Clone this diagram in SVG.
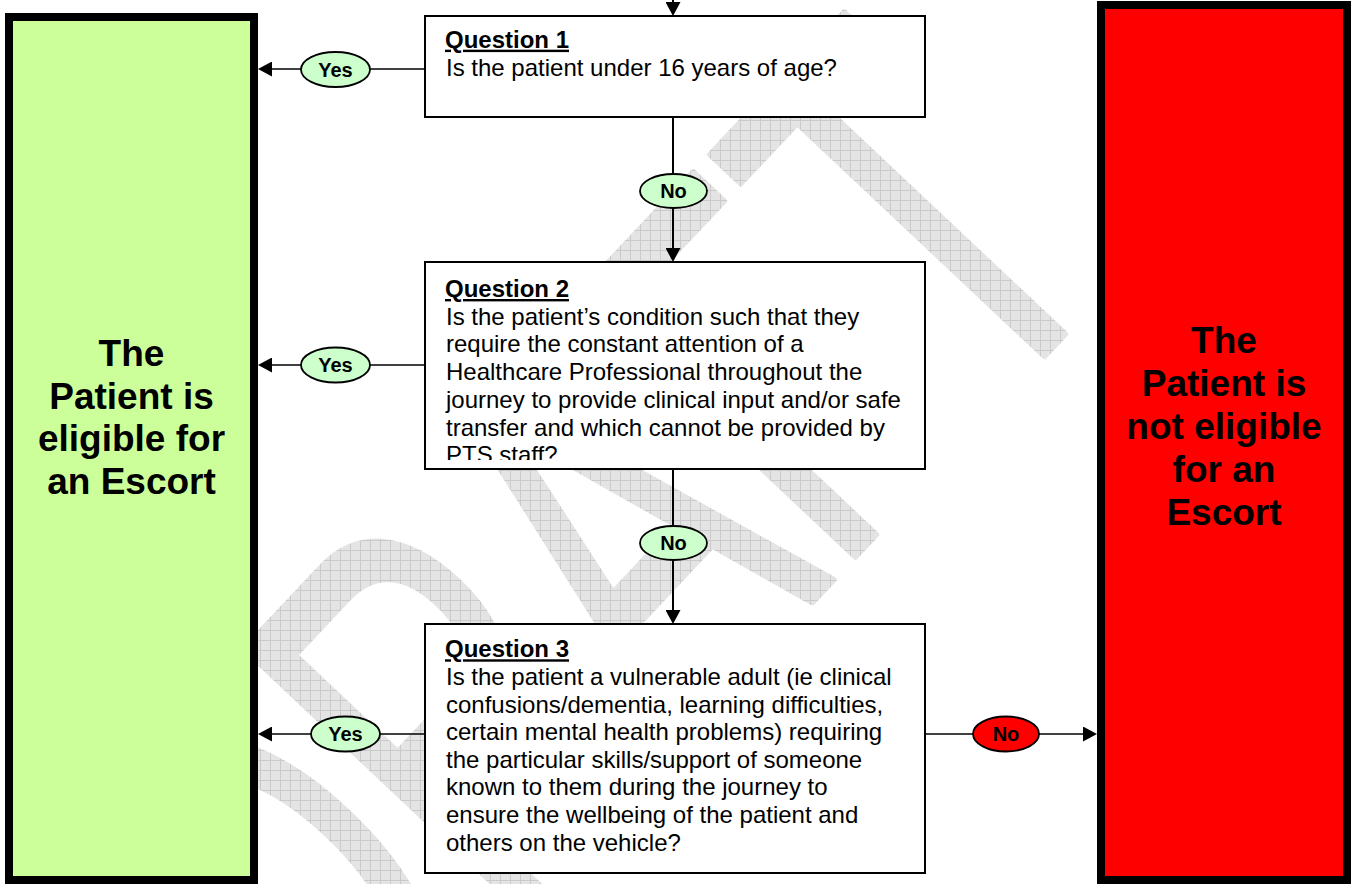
<svg xmlns="http://www.w3.org/2000/svg" width="1356" height="884" viewBox="0 0 1356 884">
  <style>
    .qbox { fill: #ffffff; stroke: #000000; stroke-width: 2; }
    .qtitle { font-family: "Liberation Sans", Arial, sans-serif; font-size: 24px; font-weight: bold; text-decoration: underline; fill: #000; }
    .qtext { font-family: "Liberation Sans", Arial, sans-serif; font-size: 24px; fill: #000; }
    .outcome { font-family: "Liberation Sans", Arial, sans-serif; font-size: 37px; font-weight: bold; text-anchor: middle; fill: #000; }
    .flow { stroke: #000; fill: none; }
    .tag { stroke: #000; stroke-width: 1.8; }
    .tag-yes { fill: #ccffcc; }
    .tag-no { fill: #ccffcc; }
    .tag-stop { fill: #ff0000; }
    .tagtext { font-family: "Liberation Sans", Arial, sans-serif; font-size: 20px; font-weight: bold; text-anchor: middle; fill: #000; }
  </style>
  <defs>
    <marker id="arrow" viewBox="0 0 14 15" refX="9" refY="7.5" markerWidth="14" markerHeight="15" markerUnits="userSpaceOnUse" orient="auto">
      <path d="M0,0 L14,7.5 L0,15 Z" fill="#000"/>
    </marker>
    <pattern id="hatch" width="10" height="10" patternUnits="userSpaceOnUse">
      <rect width="10" height="10" fill="#e4e4e4"/>
      <path d="M0 0.5H10M0.5 0V10" stroke="#cacaca" stroke-width="1"/>
    </pattern>
    <mask id="wmMask" maskUnits="userSpaceOnUse" x="0" y="0" width="1356" height="884">
      <text x="0" y="0" transform="translate(328.2,1116.3) rotate(-46.7) scale(3.5,5.55)" font-family="Liberation Sans, Arial, sans-serif" font-size="100" fill="#fff" stroke="#fff" stroke-width="1" stroke-linejoin="round">DRAFT</text>
    </mask>
    <clipPath id="q2clip">
      <rect x="426" y="263" width="498" height="197"/>
    </clipPath>
  </defs>

  <rect width="1356" height="884" fill="#ffffff"/>

  <!-- watermark -->
  <g id="watermark">
    <rect width="1356" height="884" fill="url(#hatch)" mask="url(#wmMask)"/>
  </g>

  <!-- connectors with their Yes/No tags -->
  <g id="connectors">
    <line class="flow" stroke-width="2" x1="673" y1="-10" x2="673" y2="11" marker-end="url(#arrow)"/>
    <line class="flow" stroke-width="2" x1="673" y1="117" x2="673" y2="257" marker-end="url(#arrow)"/>
    <line class="flow" stroke-width="2" x1="673" y1="469" x2="673" y2="619" marker-end="url(#arrow)"/>
    <line class="flow" stroke-width="1.6" x1="425" y1="69" x2="263" y2="69" marker-end="url(#arrow)"/>
    <line class="flow" stroke-width="1.6" x1="425" y1="365" x2="263" y2="365" marker-end="url(#arrow)"/>
    <line class="flow" stroke-width="1.6" x1="425" y1="734" x2="263" y2="734" marker-end="url(#arrow)"/>
    <line class="flow" stroke-width="1.6" x1="925" y1="734" x2="1092" y2="734" marker-end="url(#arrow)"/>

    <g id="tag-q1-no">
      <ellipse class="tag tag-no" cx="673.5" cy="191" rx="33.5" ry="17"/>
      <text class="tagtext" x="673.5" y="198">No</text>
    </g>
    <g id="tag-q2-no">
      <ellipse class="tag tag-no" cx="673.5" cy="543" rx="33.5" ry="17"/>
      <text class="tagtext" x="673.5" y="550">No</text>
    </g>
    <g id="tag-q1-yes">
      <ellipse class="tag tag-yes" cx="335.5" cy="69.5" rx="34.5" ry="17.5"/>
      <text class="tagtext" x="335.5" y="76.5">Yes</text>
    </g>
    <g id="tag-q2-yes">
      <ellipse class="tag tag-yes" cx="335.5" cy="365" rx="34.5" ry="17.5"/>
      <text class="tagtext" x="335.5" y="372">Yes</text>
    </g>
    <g id="tag-q3-yes">
      <ellipse class="tag tag-yes" cx="345.5" cy="734" rx="34.5" ry="17.5"/>
      <text class="tagtext" x="345.5" y="741">Yes</text>
    </g>
    <g id="tag-q3-no">
      <ellipse class="tag tag-stop" cx="1006" cy="734" rx="33" ry="17.5"/>
      <text class="tagtext" x="1006" y="741">No</text>
    </g>
  </g>

  <!-- outcome: eligible -->
  <g id="eligible">
    <rect x="9" y="17" width="245" height="863" fill="#ccff99" stroke="#000" stroke-width="8"/>
    <text class="outcome" x="131.5" y="366">The</text>
    <text class="outcome" x="131.5" y="408.7">Patient is</text>
    <text class="outcome" x="131.5" y="451.3">eligible for</text>
    <text class="outcome" x="131.5" y="494">an Escort</text>
  </g>

  <!-- outcome: not eligible -->
  <g id="not-eligible">
    <rect x="1101" y="5" width="246" height="875" fill="#ff0000" stroke="#000" stroke-width="8"/>
    <text class="outcome" x="1224" y="353">The</text>
    <text class="outcome" x="1224" y="396">Patient is</text>
    <text class="outcome" x="1224" y="439">not eligible</text>
    <text class="outcome" x="1224" y="482">for an</text>
    <text class="outcome" x="1224" y="525">Escort</text>
  </g>

  <!-- question 1 -->
  <g id="question1">
    <rect class="qbox" x="425" y="16" width="500" height="101"/>
    <text class="qtitle" x="445" y="47.7">Question 1</text>
    <text class="qtext" x="446" y="76">Is the patient under 16 years of age?</text>
  </g>

  <!-- question 2 -->
  <g id="question2">
    <rect class="qbox" x="425" y="262" width="500" height="207"/>
    <g clip-path="url(#q2clip)">
      <text class="qtitle" x="445" y="297">Question 2</text>
      <text class="qtext" x="446" y="324.7">Is the patient’s condition such that they</text>
      <text class="qtext" x="446" y="352.4">require the constant attention of a</text>
      <text class="qtext" x="446" y="380.1">Healthcare Professional throughout the</text>
      <text class="qtext" x="446" y="407.8">journey to provide clinical input and/or safe</text>
      <text class="qtext" x="446" y="435.5">transfer and which cannot be provided by</text>
      <text class="qtext" x="446" y="463.2">PTS staff?</text>
    </g>
  </g>

  <!-- question 3 -->
  <g id="question3">
    <rect class="qbox" x="425" y="624" width="500" height="249"/>
    <text class="qtitle" x="445" y="657.3">Question 3</text>
    <text class="qtext" x="446" y="684.9">Is the patient a vulnerable adult (ie clinical</text>
    <text class="qtext" x="446" y="712.5">confusions/dementia, learning difficulties,</text>
    <text class="qtext" x="446" y="740.1">certain mental health problems) requiring</text>
    <text class="qtext" x="446" y="767.7">the particular skills/support of someone</text>
    <text class="qtext" x="446" y="795.3">known to them during the journey to</text>
    <text class="qtext" x="446" y="822.9">ensure the wellbeing of the patient and</text>
    <text class="qtext" x="446" y="850.5">others on the vehicle?</text>
  </g>
</svg>
